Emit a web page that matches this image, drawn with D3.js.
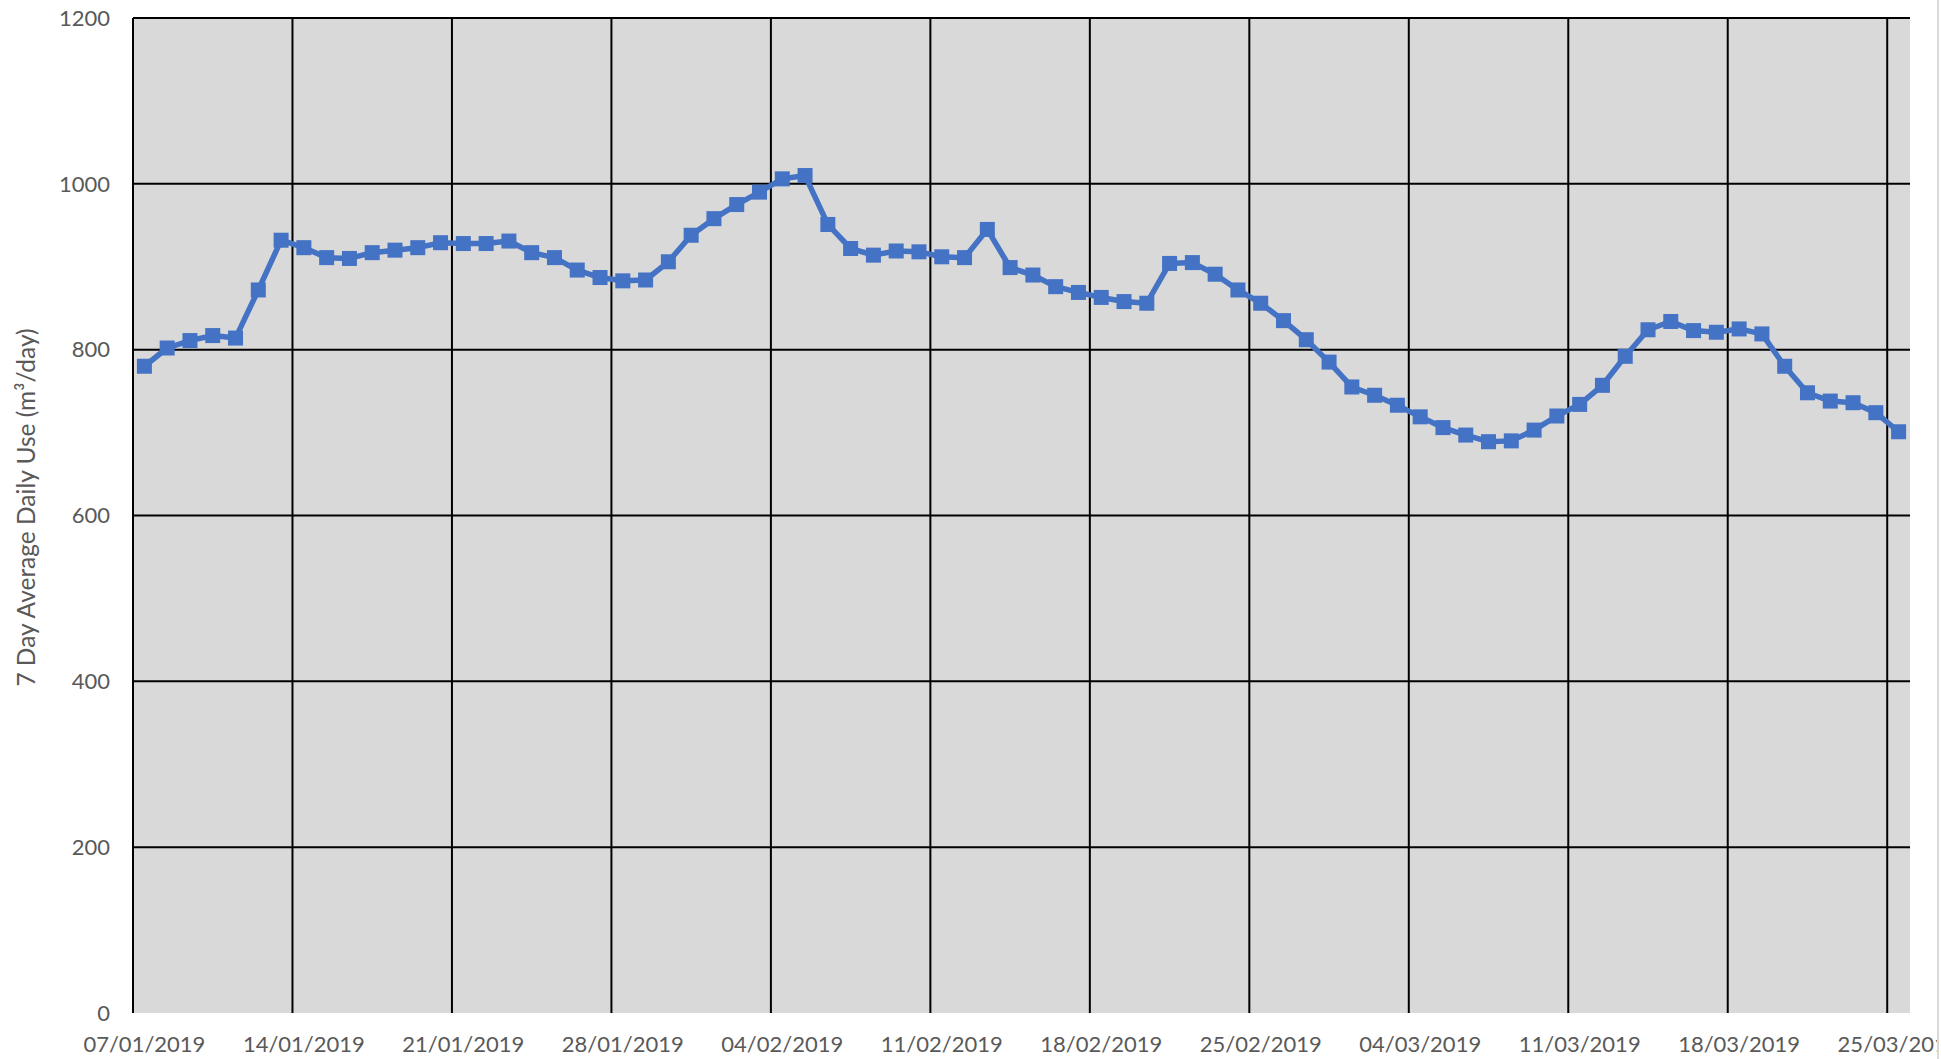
<!DOCTYPE html>
<html>
<head>
<meta charset="utf-8">
<script src="https://cdn.jsdelivr.net/npm/d3@7"></script>
<style>
  html, body { margin: 0; padding: 0; background: #fff; }
  svg { display: block; }
  text { font-family: Lato, "Open Sans", sans-serif; fill: #595959; }
</style>
</head>
<body>
<div id="chart"></div>
<script>
// first day of the series, one value per day
const startDate = "07/01/2019";
const dailyUse = [
    780, 802, 811, 817, 814, 872, 932,
    923, 911, 910, 917, 920, 923, 929,
    928, 928, 931, 917, 911, 896, 887,
    883, 884, 906, 938, 958, 975, 990,
    1006, 1010, 951, 922, 914, 919, 918,
    912, 911, 945, 899, 890, 876, 869,
    863, 858, 856, 904, 905, 891, 872,
    856, 835, 812, 785, 755, 745, 733,
    719, 706, 697, 689, 690, 703, 720,
    734, 757, 792, 824, 834, 823, 821,
    825, 819, 780, 748, 738, 736, 724,
    701
];
const xTickLabels = ["07/01/2019", "14/01/2019", "21/01/2019", "28/01/2019", "04/02/2019", "11/02/2019",
    "18/02/2019", "25/02/2019", "04/03/2019", "11/03/2019", "18/03/2019", "25/03/2019"];
const yTicks = [0, 200, 400, 600, 800, 1000, 1200];
const yTitle = "7 Day Average Daily Use (m³/day)";

const W = 1941, H = 1059;
const margin = { left: 133, top: 18, right: 31, bottom: 46 };

const parseDate = d3.utcParse("%d/%m/%Y");
const start = parseDate(startDate);
const data = dailyUse.map((v, i) => ({ date: d3.utcDay.offset(start, i), value: v }));
const ticks = xTickLabels.map(parseDate);

const svg = d3.select("#chart").append("svg")
    .attr("width", W)
    .attr("height", H);

const x = d3.scaleUtc()
    .domain([start, d3.utcDay.offset(start, dailyUse.length)])
    .range([margin.left, W - margin.right]);

const y = d3.scaleLinear()
    .domain([0, 1200])
    .range([H - margin.bottom, margin.top]);

// points sit in the middle of their day
const mid = d => d3.utcHour.offset(d, 12);

// plot background
svg.append("rect")
    .attr("x", x.range()[0])
    .attr("y", y(1200))
    .attr("width", x.range()[1] - x.range()[0])
    .attr("height", y(0) - y(1200))
    .attr("fill", "#d9d9d9");

// chart area border on the right
svg.append("line")
    .attr("x1", 1938).attr("x2", 1938)
    .attr("y1", 0).attr("y2", H)
    .attr("stroke", "#d9d9d9")
    .attr("stroke-width", 2);

// horizontal grid
svg.append("g")
    .selectAll("line")
    .data(yTicks.filter(t => t > 0))
    .enter().append("line")
    .attr("x1", x.range()[0])
    .attr("x2", x.range()[1])
    .attr("y1", d => y(d))
    .attr("y2", d => y(d))
    .attr("stroke", "#000")
    .attr("stroke-width", 2);

// vertical grid
svg.append("g")
    .selectAll("line")
    .data(ticks)
    .enter().append("line")
    .attr("x1", d => x(d))
    .attr("x2", d => x(d))
    .attr("y1", y(1200))
    .attr("y2", y(0))
    .attr("stroke", "#000")
    .attr("stroke-width", 2);

// y tick labels
svg.append("g")
    .selectAll("text")
    .data(yTicks)
    .enter().append("text")
    .attr("x", 110)
    .attr("y", d => y(d))
    .attr("dy", "0.35em")
    .attr("text-anchor", "end")
    .style("font-size", "22px")
    .text(d => d);

// x tick labels, clipped at the chart border like the original
svg.append("clipPath")
    .attr("id", "xclip")
    .append("rect")
    .attr("x", 0).attr("y", 0)
    .attr("width", 1937).attr("height", H);

svg.append("g")
    .attr("clip-path", "url(#xclip)")
    .selectAll("text")
    .data(ticks)
    .enter().append("text")
    .attr("x", d => x(mid(d)))
    .attr("y", y(0) + 31)
    .attr("dy", "0.35em")
    .attr("text-anchor", "middle")
    .style("font-size", "22px")
    .text((d, i) => xTickLabels[i]);

// y axis title
svg.append("text")
    .attr("transform", `translate(26, ${(y(0) + y(1200)) / 2 - 8}) rotate(-90)`)
    .attr("dy", "0.35em")
    .attr("text-anchor", "middle")
    .style("font-size", "24.5px")
    .text(yTitle);

// series
const line = d3.line()
    .x(d => x(mid(d.date)))
    .y(d => y(d.value));

svg.append("path")
    .datum(data)
    .attr("fill", "none")
    .attr("stroke", "#4472c4")
    .attr("stroke-width", 5.5)
    .attr("stroke-linejoin", "round")
    .attr("d", line);

const size = 15;
svg.append("g")
    .selectAll("rect")
    .data(data)
    .enter().append("rect")
    .attr("x", d => x(mid(d.date)) - size / 2)
    .attr("y", d => y(d.value) - size / 2)
    .attr("width", size)
    .attr("height", size)
    .attr("fill", "#4472c4");
</script>
</body>
</html>
